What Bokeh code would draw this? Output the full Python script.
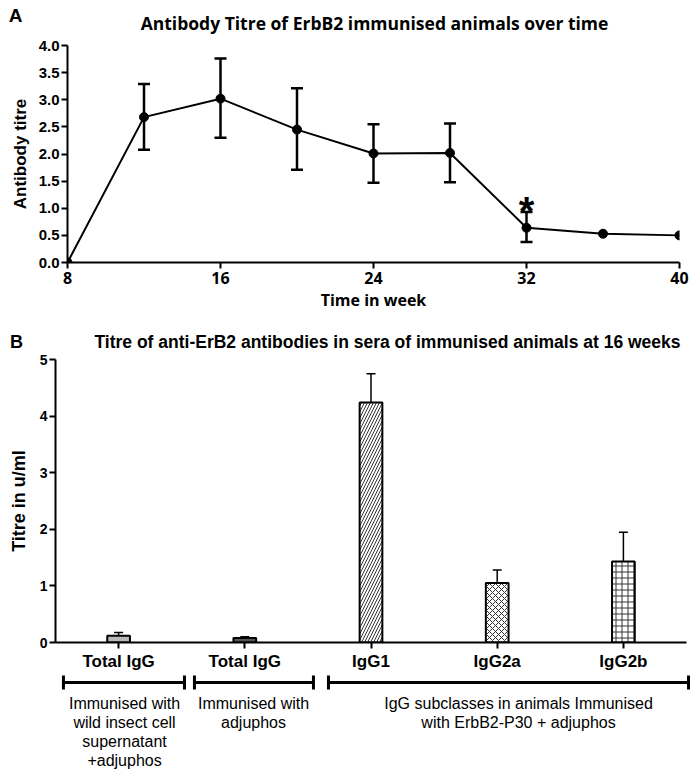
from bokeh.plotting import figure
from bokeh.models import (ColumnDataSource, Range1d, FixedTicker, Whisker, TeeHead,
                          Label, PrintfTickFormatter)
from bokeh.core.properties import value
from bokeh.layouts import column
from bokeh.embed import file_html
from bokeh.resources import INLINE

# ---------------- Data: panel A ----------------
weeks = [8, 12, 16, 20, 24, 28, 32, 36, 40]
titre = [0.0, 2.68, 3.02, 2.45, 2.01, 2.02, 0.64, 0.53, 0.50]
err_weeks = [12, 16, 20, 24, 28, 32]
err_lower = [2.08, 2.30, 1.71, 1.47, 1.48, 0.38]
err_upper = [3.29, 3.76, 3.21, 2.55, 2.56, 0.93]
x_ticks_a = [8, 16, 24, 32, 40]
y_ticks_a = [0.0, 0.5, 1.0, 1.5, 2.0, 2.5, 3.0, 3.5, 4.0]
star_week = 32
star_y = 0.95

# ---------------- Data: panel B ----------------
bar_labels = ["Total IgG", "Total IgG", "IgG1", "IgG2a", "IgG2b"]
bar_values = [0.12, 0.08, 4.24, 1.05, 1.43]
bar_upper = [0.175, 0.10, 4.75, 1.28, 1.95]
bar_hatch = [" ", ".", "/", "x", "+"]
bar_fill = ["#b8b8b8", "#555555", "white", "white", "white"]
y_ticks_b = [0, 1, 2, 3, 4, 5]
group_start = [0.563, 1.601, 2.663]
group_end = [1.522, 2.544, 5.516]
group_center = [1.047, 2.069, 4.169]
group_lines = [["Immunised with", "wild insect cell", "supernatant", "+adjuphos"],
               ["Immunised with", "adjuphos"],
               ["IgG subclasses in animals Immunised", "with ErbB2-P30 + adjuphos"]]

title_a = "Antibody Titre of ErbB2 immunised animals over time"
title_b = "Titre of anti-ErB2 antibodies in sera of immunised animals at 16 weeks"

CAL = "Open Sans"
ARIAL = "Liberation Sans"
W = 691


def style_axes(p):
    for ax in (p.xaxis[0], p.yaxis[0]):
        ax.axis_line_width = 2
        ax.major_tick_line_width = 2
        ax.major_tick_out = 6
        ax.major_tick_in = 0
        ax.minor_tick_line_color = None
        ax.major_label_text_color = "black"
        ax.axis_label_text_color = "black"
        ax.major_label_text_font_style = "bold"
        ax.axis_label_text_font_style = "bold"
    p.grid.visible = False
    p.outline_line_color = None


def blank_fig(height, x_range, y_range, left=0, right=0):
    f = figure(width=W, height=height, output_backend="svg", toolbar_location=None,
               x_range=x_range, y_range=y_range, x_axis_type=None, y_axis_type=None,
               min_border_left=left, min_border_right=right, min_border_top=0,
               min_border_bottom=0, frame_align=False)
    f.grid.visible = False
    f.outline_line_color = None
    return f


# ---------------- Header A (page rows 0..36) ----------------
hA = blank_fig(36, Range1d(0, W), Range1d(36, 0))
hA.text(x=[374], y=[22.5], text=[title_a], text_font=value(CAL), text_font_style="bold",
        text_font_size="17.5px", text_align="center", text_baseline="middle",
        text_color="black")
hA.text(x=[15], y=[15], text=["A"], text_font=value(ARIAL), text_font_style="bold",
        text_font_size="19px", text_align="center", text_baseline="middle",
        text_color="black")

# ---------------- Panel A (page rows 36..317) ----------------
pA = figure(width=W, height=281, output_backend="svg", toolbar_location=None,
            x_range=Range1d(8, 40), y_range=Range1d(0, 4), frame_align=False,
            min_border_left=67, min_border_right=12, min_border_top=9, min_border_bottom=55)
style_axes(pA)
pA.xaxis.ticker = FixedTicker(ticks=x_ticks_a)
pA.yaxis.ticker = FixedTicker(ticks=y_ticks_a)
pA.yaxis.formatter = PrintfTickFormatter(format="%.1f")
pA.xaxis.axis_label = "Time in week"
pA.yaxis.axis_label = "Antibody titre"
pA.xaxis.major_label_text_font = CAL
pA.xaxis.axis_label_text_font = CAL
pA.xaxis.major_label_text_font_size = "16px"
pA.xaxis.axis_label_text_font_size = "16px"
pA.xaxis.major_label_standoff = 3
pA.xaxis.axis_label_standoff = 2
pA.yaxis.major_label_text_font = ARIAL
pA.yaxis.axis_label_text_font = ARIAL
pA.yaxis.major_label_text_font_size = "15px"
pA.yaxis.axis_label_text_font_size = "17px"
pA.yaxis.major_label_standoff = 2
pA.yaxis.axis_label_standoff = 6

pA.line(weeks, titre, line_width=2, line_color="black")
errA = ColumnDataSource(dict(x=err_weeks, lower=err_lower, upper=err_upper))
pA.add_layout(Whisker(source=errA, base="x", lower="lower", upper="upper",
                      line_width=2.5, line_color="black",
                      lower_head=TeeHead(size=12, line_width=2.5, line_color="black"),
                      upper_head=TeeHead(size=12, line_width=2.5, line_color="black")))
pA.scatter(weeks, titre, size=9, color="black")
pA.add_layout(Label(x=star_week, y=star_y, text="*", text_font=ARIAL, text_font_style="bold",
                    text_font_size="40px", text_align="center", text_baseline="middle",
                    text_color="black"))

# ---------------- Header B (page rows 317..352) ----------------
hB = blank_fig(35, Range1d(0, W), Range1d(352, 317))
hB.text(x=[387], y=[341.5], text=[title_b], text_font=value(ARIAL), text_font_style="bold",
        text_font_size="17.5px", text_align="center", text_baseline="middle",
        text_color="black")
hB.text(x=[16], y=[341.5], text=["B"], text_font=value(ARIAL), text_font_style="bold",
        text_font_size="18px", text_align="center", text_baseline="middle",
        text_color="black")

# ---------------- Panel B (page rows 352..673) ----------------
B_LEFT, B_RIGHT = 55, 5
xs = list(range(1, len(bar_labels) + 1))
pB = figure(width=W, height=321, output_backend="svg", toolbar_location=None,
            x_range=Range1d(0.5, 5.5), y_range=Range1d(0, 5), frame_align=False,
            min_border_left=B_LEFT, min_border_right=B_RIGHT, min_border_top=7,
            min_border_bottom=28)
style_axes(pB)
pB.xaxis.ticker = FixedTicker(ticks=xs)
pB.xaxis.major_label_overrides = {x: lab for x, lab in zip(xs, bar_labels)}
pB.yaxis.ticker = FixedTicker(ticks=y_ticks_b)
pB.yaxis.axis_label = "Titre in u/ml"
pB.xaxis.major_label_text_font = ARIAL
pB.xaxis.major_label_text_font_size = "17px"
pB.xaxis.major_label_standoff = 3
pB.yaxis.major_label_text_font = ARIAL
pB.yaxis.major_label_text_font_size = "14px"
pB.yaxis.axis_label_text_font = ARIAL
pB.yaxis.axis_label_text_font_size = "18px"
pB.yaxis.major_label_standoff = 2
pB.yaxis.axis_label_standoff = 8

srcB = ColumnDataSource(dict(x=xs, top=bar_values, upper=bar_upper,
                             hatch=bar_hatch, fill=bar_fill))
pB.add_layout(Whisker(source=srcB, base="x", lower="top", upper="upper",
                      line_width=1.5, line_color="black", lower_head=None,
                      upper_head=TeeHead(size=9, line_width=1.5, line_color="black")))
pB.vbar(x="x", top="top", bottom=0, width=0.18, source=srcB, fill_color="fill",
        line_color="black", line_width=2, hatch_pattern="hatch", hatch_color="#333333",
        hatch_scale=6, hatch_weight=1)

# ---------------- Group brackets below panel B (page rows 673..770) ----------------
frame_w = W - B_LEFT - B_RIGHT
x_end = 0.5 + 5.0 * (W - B_LEFT) / frame_w
gB = blank_fig(97, Range1d(0.5, x_end), Range1d(97, 0), left=B_LEFT, right=0)
br_y = 9
gB.segment(x0=group_start, y0=[br_y] * 3, x1=group_end, y1=[br_y] * 3,
           line_width=3, line_color="black")
caps_x = group_start + group_end
gB.segment(x0=caps_x, y0=[br_y - 7] * 6, x1=caps_x, y1=[br_y + 7] * 6,
           line_width=3, line_color="black")
tx, ty, tt = [], [], []
for cx, lines in zip(group_center, group_lines):
    for i, t in enumerate(lines):
        tx.append(cx)
        ty.append(30 + 19 * i)
        tt.append(t)
gB.text(x=tx, y=ty, text=tt, text_font=value(ARIAL), text_font_size="16px",
        text_align="center", text_baseline="middle", text_color="black")

layout = column(hA, pA, hB, pB, gB)
open("out.html", "w").write(file_html(layout, INLINE))
